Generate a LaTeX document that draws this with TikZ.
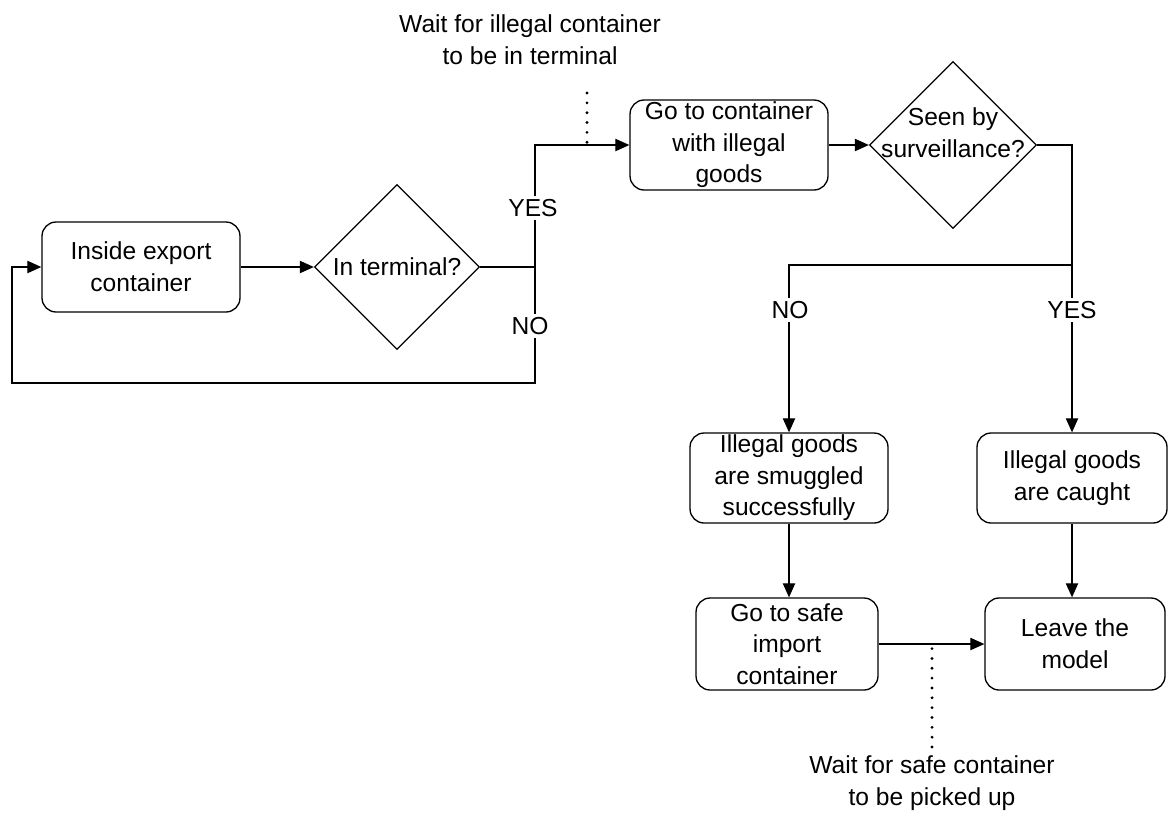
\documentclass[tikz,border=0pt]{standalone}
\usepackage{fontspec}
\setmainfont{Liberation Sans}
\usetikzlibrary{arrows.meta,positioning,shapes.geometric,calc}

\begin{document}
\begin{tikzpicture}[
  x=0.02cm, y=-0.02cm,
  font=\fontsize{14}{18}\selectfont,
  box/.style={draw, line width=0.75pt, rounded corners=8pt, minimum width=3.96cm,
              minimum height=1.8cm, align=center, inner sep=1pt},
  decision/.style={draw, line width=0.75pt, diamond, aspect=1, inner sep=0pt,
              minimum width=3.3cm, minimum height=3.3cm, align=center},
  flow/.style={line width=0.75pt, -{Stealth[length=8pt,width=7pt,inset=0pt]}},
  wire/.style={line width=0.75pt},
  waitline/.style={line width=1.8pt, dash pattern=on 0pt off 5.6pt, line cap=round},
  answer/.style={fill=white, inner sep=2pt}
]
  \useasboundingbox (0,0) rectangle (1168,812);

  \node[box] (start) at (141,267) {Inside export\\container};
  \node[decision] (term) at (397,267) {In terminal?};
  \node[box] (goto) at (729,145) {Go to container\\with illegal\\goods};
  \node[decision, inner sep=-14pt, text depth=0.5cm, minimum width=3.34cm, minimum height=3.34cm]
    (seen) at (953,145) {Seen by\\surveillance?};
  \node[box] (smug) at (789,478) {Illegal goods\\are smuggled\\successfully};
  \node[box, minimum width=3.8cm] (caught) at (1072,478) {Illegal goods\\are caught};
  \node[box, minimum width=3.64cm, minimum height=1.84cm] (safe) at (787,644)
    {Go to safe\\import\\container};
  \node[box, minimum width=3.6cm, minimum height=1.84cm] (leave) at (1075,644)
    {Leave the\\model};

  \node[align=center] (wait1) at (530,40) {Wait for illegal container\\to be in terminal};
  \node[align=center] (wait2) at (932,783) {Wait for safe container\\to be picked up};

  \coordinate (j1) at (535,267);
  \coordinate (back) at (12,383);
  \coordinate (j2) at (1072,265);
  \coordinate (d1) at (587,93);
  \coordinate (d2) at (932,747);

  \draw[flow] (start) -- (term);
  \draw[wire] (term.east) -- (j1);
  \draw[flow] (j1) |- (goto.west);
  \draw[flow] (j1) |- (back) |- (start.west);
  \node[answer] (yes1) at (533,208) {YES};
  \node[answer] (no1) at (530,326) {NO};

  \draw[flow] (goto) -- (seen);
  \draw[wire] (seen.east) -| (j2);
  \draw[flow] (j2) -- (caught.north);
  \draw[flow] (j2) -| (smug.north);
  \node[answer] (no2) at (790,310) {NO};
  \node[answer] (yes2) at (1072,310) {YES};

  \draw[flow] (smug.south) -- (smug.south |- safe.north);
  \draw[flow] (caught.south) -- (caught.south |- leave.north);
  \draw[flow] (safe) -- (leave);

  % waiting points
  \draw[waitline] (d1) -- (d1 |- goto.west);
  \draw[waitline] (d2) -- (d2 |- safe.east);
\end{tikzpicture}
\end{document}
